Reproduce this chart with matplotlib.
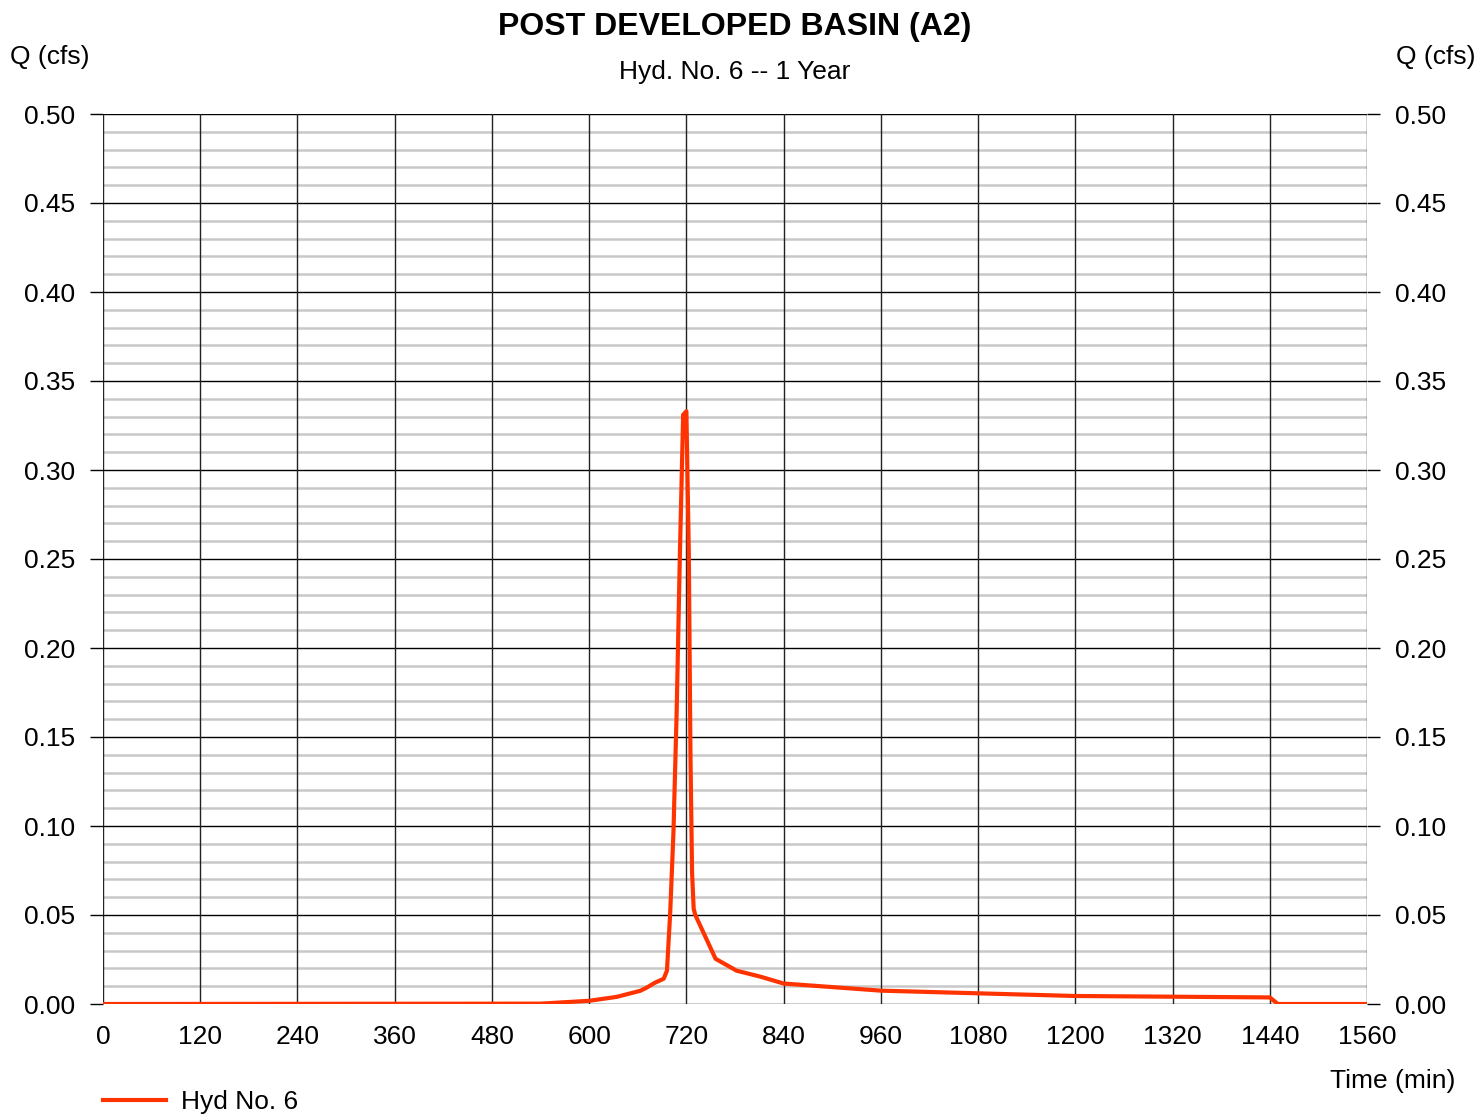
import matplotlib
matplotlib.use("Agg")
import matplotlib.pyplot as plt
import numpy as np

plt.rcParams['font.family'] = ['Liberation Sans', 'DejaVu Sans']

title = "POST DEVELOPED BASIN (A2)"
subtitle = "Hyd. No. 6 -- 1 Year"
series_name = "Hyd No. 6"

time_min = [0, 540, 600, 634, 663, 671, 681, 692, 696, 700, 704, 708, 712, 716,
            720, 723, 725, 727, 729, 731, 756, 782, 811, 840, 960, 1080, 1200,
            1320, 1440, 1450, 1560]
q_cfs = [0.0, 0.0002, 0.0018, 0.004, 0.0074, 0.0092, 0.0119, 0.0142, 0.0187,
         0.051, 0.096, 0.164, 0.253, 0.331, 0.333, 0.253, 0.141, 0.074, 0.0535,
         0.050, 0.0254, 0.0187, 0.0154, 0.0115, 0.0075, 0.006, 0.0045, 0.0041,
         0.0037, 0.0, 0.0]

x_ticks = [0, 120, 240, 360, 480, 600, 720, 840, 960, 1080, 1200, 1320, 1440, 1560]
y_ticks = [0.00, 0.05, 0.10, 0.15, 0.20, 0.25, 0.30, 0.35, 0.40, 0.45, 0.50]
y_minor_step = 0.01

W, H = 1478, 1114
FS = 19
fig = plt.figure(figsize=(W / 100, H / 100), dpi=100)
ax = fig.add_axes([103 / W, 1 - 1004 / H, (1367 - 103) / W, (1004 - 114) / H])

ax.set_xlim(0, 1560)
ax.set_ylim(0, 0.5)
ax.set_xticks(x_ticks)
ax.set_yticks(y_ticks)
ax.set_xticklabels([str(t) for t in x_ticks])
ax.set_yticklabels([f"{v:.2f}" for v in y_ticks])

minor_vals = np.round(np.arange(0, 0.5 + 1e-9, y_minor_step), 4)
for v in minor_vals:
    if not np.any(np.isclose(v, y_ticks)):
        ax.axhline(v, color='#c8c8c8', linewidth=1.8, zorder=0.5)
for v in y_ticks:
    ax.axhline(v, color='black', linewidth=1.0, zorder=1)
for t in x_ticks:
    ax.axvline(t, color='#222222', linewidth=1.0, zorder=1.2)
for s in ax.spines.values():
    s.set_visible(False)

ax.tick_params(axis='y', which='major', direction='out', length=9.5, width=1.0,
               labelsize=FS, left=True, right=True, labelleft=True,
               labelright=True, pad=10.5)
ax.tick_params(axis='x', which='major', length=0, labelsize=FS, pad=15)

line, = ax.plot(time_min, q_cfs, color='#ff3300', linewidth=3.0,
                solid_joinstyle='round', zorder=3, label=series_name)

fig.text(735 / W, 1 - 27 / H, title, ha='center', va='center',
         fontsize=23, fontweight='bold')
fig.text(735 / W, 1 - 72 / H, subtitle, ha='center', va='center', fontsize=FS)
fig.text(50 / W, 1 - 57 / H, "Q (cfs)", ha='center', va='center', fontsize=FS)
fig.text(1436 / W, 1 - 57 / H, "Q (cfs)", ha='center', va='center', fontsize=FS)
fig.text(1455 / W, 1 - 1081 / H, "Time (min)", ha='right', va='center', fontsize=FS)

fig.legend(handles=[line], loc='center left', frameon=False,
           bbox_to_anchor=(103 / W, 1 - 1102 / H), bbox_transform=fig.transFigure,
           borderpad=0, borderaxespad=0, handlelength=2.4, handletextpad=0.55,
           fontsize=FS)

fig.savefig("out.png", dpi=100)
